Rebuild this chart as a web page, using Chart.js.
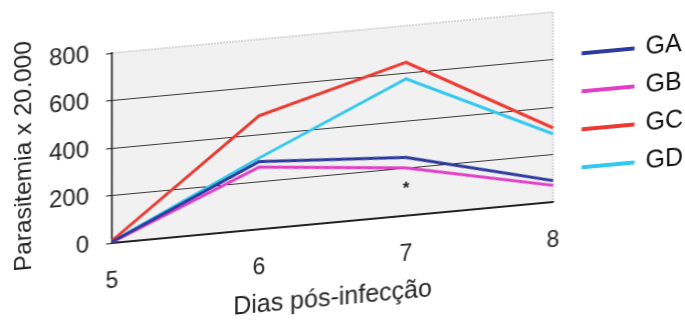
<!DOCTYPE html>
<html>
<head>
<meta charset="utf-8">
<script src="https://cdn.jsdelivr.net/npm/chart.js@4"></script>
<style>
  html, body { margin: 0; padding: 0; background: #fff; overflow: hidden; }
  #wrap {
    position: absolute; left: 0; top: 0; width: 685px; height: 334px;
    transform: skewY(-5.31deg); transform-origin: 112px 243px;
  }
</style>
</head>
<body>
<div id="wrap"><canvas id="parasChart" width="685" height="334"></canvas></div>
<script>
const dias = ['5', '6', '7', '8'];
const gA = [5, 285, 245, 90];
const gB = [3, 262, 201, 70];
const gC = [10, 478, 646, 312];
const gD = [6, 300, 576, 287];
const yTicks = [0, 200, 400, 600, 800];
// asterisk shown under day 7
const starDay = '7';
const starValue = 111;

const FONT = 'Liberation Sans, Arial, sans-serif';

const plotBg = {
  id: 'plotBg',
  beforeDraw(chart) {
    const {ctx, chartArea: a} = chart;
    ctx.save();
    ctx.fillStyle = '#f1f1f1';
    ctx.fillRect(a.left, a.top, a.width, a.height);
    ctx.strokeStyle = '#b5b5b5';
    ctx.lineWidth = 1;
    ctx.setLineDash([2, 1]);
    ctx.strokeRect(a.left, a.top, a.width, a.height);
    ctx.restore();
  }
};

const starMark = {
  id: 'starMark',
  afterDatasetsDraw(chart) {
    const {ctx, scales} = chart;
    ctx.save();
    ctx.fillStyle = '#222';
    ctx.font = 'bold 17px ' + FONT;
    ctx.textAlign = 'center';
    ctx.textBaseline = 'middle';
    ctx.fillText('*', scales.x.getPixelForValue(dias.indexOf(starDay)), scales.y.getPixelForValue(starValue));
    ctx.restore();
  }
};

function serie(label, data, color) {
  return {
    label: label, data: data,
    borderColor: color, backgroundColor: color,
    borderWidth: 3, pointRadius: 0, tension: 0, fill: false
  };
}

new Chart(document.getElementById('parasChart'), {
  type: 'line',
  data: {
    labels: dias,
    datasets: [
      serie('GA', gA, '#2d3a9e'),
      serie('GB', gB, '#e23fc6'),
      serie('GC', gC, '#ec3a32'),
      serie('GD', gD, '#33c8ee')
    ]
  },
  options: {
    responsive: false,
    animation: false,
    devicePixelRatio: 1,
    layout: { padding: { top: 53, left: 0, right: 0, bottom: 0 } },
    plugins: {
      tooltip: { enabled: false },
      legend: {
        position: 'right',
        align: 'start',
        maxWidth: 115,
        title: { display: true, text: '', font: { size: 12 }, padding: { top: 4, bottom: 0 } },
        labels: {
          boxWidth: 50, boxHeight: 1, padding: 13,
          color: '#111',
          font: { family: FONT, size: 25 }
        }
      }
    },
    scales: {
      x: {
        offset: false,
        grid: { display: false, drawTicks: false },
        border: { color: '#222', width: 1.5 },
        ticks: { padding: 25, color: '#222', font: { family: FONT, size: 23 } },
        title: {
          display: true, text: 'Dias pós-infecção', color: '#222',
          font: { family: FONT, size: 25 }, padding: { top: 0, bottom: 0 }
        },
        afterFit(scale) { scale.height = 91; }
      },
      y: {
        min: 0, max: 800,
        afterBuildTicks(scale) { scale.ticks = yTicks.map(v => ({ value: v })); },
        grid: {
          color: ctx => ctx.tick && ctx.tick.value === 800 ? 'rgba(0,0,0,0)' : (ctx.tick && ctx.tick.value === 0 ? '#222' : '#3a3a3a'),
          lineWidth: 1,
          drawTicks: true, tickLength: 6, tickColor: '#222'
        },
        border: { color: '#111', width: 1.5 },
        ticks: { padding: 17, color: '#222', font: { family: FONT, size: 24 } },
        title: {
          display: true, text: 'Parasitemia x 20.000', color: '#222',
          font: { family: FONT, size: 24.5 }, padding: { top: 10, bottom: 0 }
        },
        afterFit(scale) { scale.width = 112; }
      },
      // empty spacer between the plot and the legend
      gap: {
        type: 'linear', position: 'right', display: true,
        grid: { display: false, drawTicks: false },
        border: { display: false },
        ticks: { display: false },
        afterFit(scale) { scale.width = 17; }
      }
    }
  },
  plugins: [plotBg, starMark]
});
</script>
</body>
</html>
